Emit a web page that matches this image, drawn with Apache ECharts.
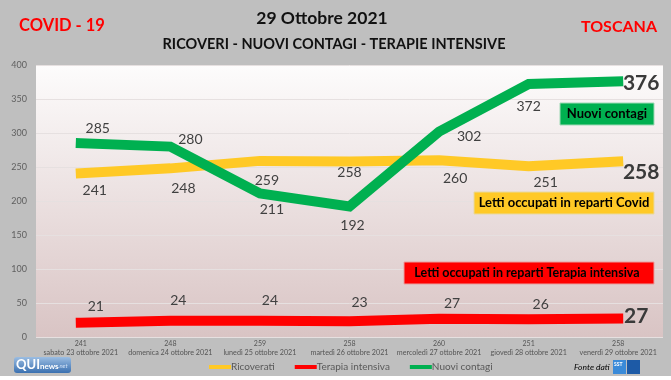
<!DOCTYPE html>
<html><head><meta charset="utf-8">
<script src="https://cdn.jsdelivr.net/npm/echarts@6/dist/echarts.min.js"></script>
<style>html,body{margin:0;padding:0;background:#bfbfbf;}#c{width:671px;height:380px;}</style>
</head><body><div id="c"></div>
<script>
const days = ['sabato 23 ottobre 2021','domenica 24 ottobre 2021','lunedì 25 ottobre 2021','martedì 26 ottobre 2021','mercoledì 27 ottobre 2021','giovedì 28 ottobre 2021','venerdì 29 ottobre 2021'];
const ricoverati = [241,248,259,258,260,251,258];
const terapia = [21,24,24,23,27,26,27];
const contagi = [285,280,211,192,302,372,376];
const yTicks = [0,50,100,150,200,250,300,350,400];

// label offsets (relative to each point)
const offR = [[14,17],[13,20],[7,20],[0,11],[16,18],[17,16],[23,11]];
const offT = [[15,-16],[8,-20],[10,-20],[10,-19],[13,-15],[12,-15],[18,-2]];
const offC = [[17,-15],[20,-7],[12,16],[3,19],[30,5],[0,22],[23,2]];

const F = 'Lato, "Open Sans", sans-serif';
function mk(vals, offs){
  return vals.map((v,i)=>{
    const last = i===vals.length-1;
    return {value:v, label:{show:true, position:'inside', offset:offs[i],
      fontSize: last?21:14, fontWeight: last?'bold':'normal', color: last?'#3a3a3a':'#404040', fontFamily:F}};
  });
}
const chart = echarts.init(document.getElementById('c'));
const lineBase = {type:'line', symbol:'circle', symbolSize:0.1, lineStyle:{width:10, cap:'square', join:'miter'}, animation:false, z:2};
chart.setOption({
  backgroundColor:'#bfbfbf',
  animation:false,
  textStyle:{fontFamily:F},
  grid:{left:36, right:8, top:65, bottom:43, show:true, borderWidth:0,
    backgroundColor: new echarts.graphic.LinearGradient(0,0,0,1,[{offset:0,color:'#fdfcfc'},{offset:1,color:'#d9c4c4'}])},
  xAxis:{type:'category', data:days, boundaryGap:true,
    axisLine:{show:false}, axisTick:{show:false},
    axisLabel:{interval:0, color:'#555', margin:3,
      formatter:(v,i)=> '{n|' + ricoverati[i] + '}\n{d|' + v + '}',
      rich:{n:{fontSize:7, lineHeight:8, color:'#555', fontFamily:F}, d:{fontSize:7.2, lineHeight:9, color:'#555', fontFamily:F}}}},
  yAxis:{type:'value', min:yTicks[0], max:yTicks[yTicks.length-1], interval:50,
    axisLine:{show:false}, axisTick:{show:false},
    axisLabel:{fontSize:9, color:'#606060', margin:9},
    splitLine:{lineStyle:{color:'#e6e0e0', width:1}}},
  legend:{left:204, top:357, itemWidth:22, itemHeight:4, itemGap:20, icon:'rect',
    textStyle:{fontSize:10, color:'#595959', padding:[0,0,0,-5]},
    data:['Ricoverati','Terapia intensiva','Nuovi contagi']},
  series:[
    Object.assign({}, lineBase, {name:'Ricoverati', color:'#ffc926', itemStyle:{color:'#ffc926'}, lineStyle:Object.assign({},lineBase.lineStyle,{color:'#ffc926'}), data:mk(ricoverati, offR)}),
    Object.assign({}, lineBase, {name:'Terapia intensiva', color:'#ff0000', itemStyle:{color:'#ff0000'}, lineStyle:Object.assign({},lineBase.lineStyle,{color:'#ff0000'}), data:mk(terapia, offT)}),
    Object.assign({}, lineBase, {name:'Nuovi contagi', color:'#00b050', itemStyle:{color:'#00b050'}, lineStyle:Object.assign({},lineBase.lineStyle,{color:'#00b050'}), data:mk(contagi, offC)})
  ],
  graphic:[
    {type:'text', x:322, y:18, style:{text:'29 Ottobre 2021', font:'bold 17.5px '+F, fill:'#111', align:'center', verticalAlign:'middle'}},
    {type:'text', x:334, y:44, style:{text:'RICOVERI - NUOVI CONTAGI - TERAPIE INTENSIVE', font:'bold 14.5px '+F, fill:'#111', align:'center', verticalAlign:'middle'}},
    {type:'text', x:62, y:26, style:{text:'COVID - 19', font:'bold 16.5px '+F, fill:'#ff0000', align:'center', verticalAlign:'middle'}},
    {type:'text', x:619, y:27, style:{text:'TOSCANA', font:'bold 16px '+F, fill:'#ff0000', align:'center', verticalAlign:'middle'}},
    {type:'rect', shape:{x:560, y:103, width:94, height:22}, style:{fill:'#00b050', stroke:'#9fd9b5', lineWidth:1}, z:10},
    {type:'text', x:607, y:114, style:{text:'Nuovi contagi', font:'bold 13px '+F, fill:'#000', align:'center', verticalAlign:'middle'}, z:11},
    {type:'rect', shape:{x:474, y:192, width:180, height:22}, style:{fill:'#ffc926', stroke:'#e8d9a0', lineWidth:1}, z:10},
    {type:'text', x:564, y:203, style:{text:'Letti occupati in reparti Covid', font:'bold 13px '+F, fill:'#000', align:'center', verticalAlign:'middle'}, z:11},
    {type:'rect', shape:{x:404, y:262, width:250, height:22}, style:{fill:'#ff0000', stroke:'#e8a0a0', lineWidth:1}, z:10},
    {type:'text', x:527, y:273, style:{text:'Letti occupati in reparti Terapia intensiva', font:'bold 12.5px '+F, fill:'#000', align:'center', verticalAlign:'middle'}, z:11},
    {type:'rect', shape:{x:14, y:357, width:57, height:16, r:3}, style:{fill:new echarts.graphic.LinearGradient(0,0,0,1,[{offset:0,color:'#9bbde2'},{offset:1,color:'#3a70b0'}])}, z:10},
    {type:'text', x:16, y:365, style:{text:'QUI', font:'bold 13px '+F, fill:'#fff', verticalAlign:'middle'}, z:11},
    {type:'text', x:40, y:366, style:{text:'news', font:'bold 8px '+F, fill:'#fff', verticalAlign:'middle'}, z:11},
    {type:'text', x:58, y:366, style:{text:'.net', font:'italic 6px '+F, fill:'#cfe0f5', verticalAlign:'middle'}, z:11},
    {type:'text', x:574, y:367, style:{text:'Fonte dati', font:'italic 8.5px '+F, fill:'#000', verticalAlign:'middle'}},
    {type:'rect', shape:{x:613, y:360, width:13, height:14}, style:{fill:'#3a8ad8'}, z:10},
    {type:'text', x:614, y:364, style:{text:'SST', font:'bold 5px '+F, fill:'#fff', verticalAlign:'middle'}, z:11},
    {type:'rect', shape:{x:627, y:360, width:13, height:14}, style:{fill:'#1d5aa6'}, z:10},
    {type:'rect', shape:{x:0, y:376, width:671, height:4}, style:{fill:'#ffffff'}}
  ]
});
</script></body></html>
